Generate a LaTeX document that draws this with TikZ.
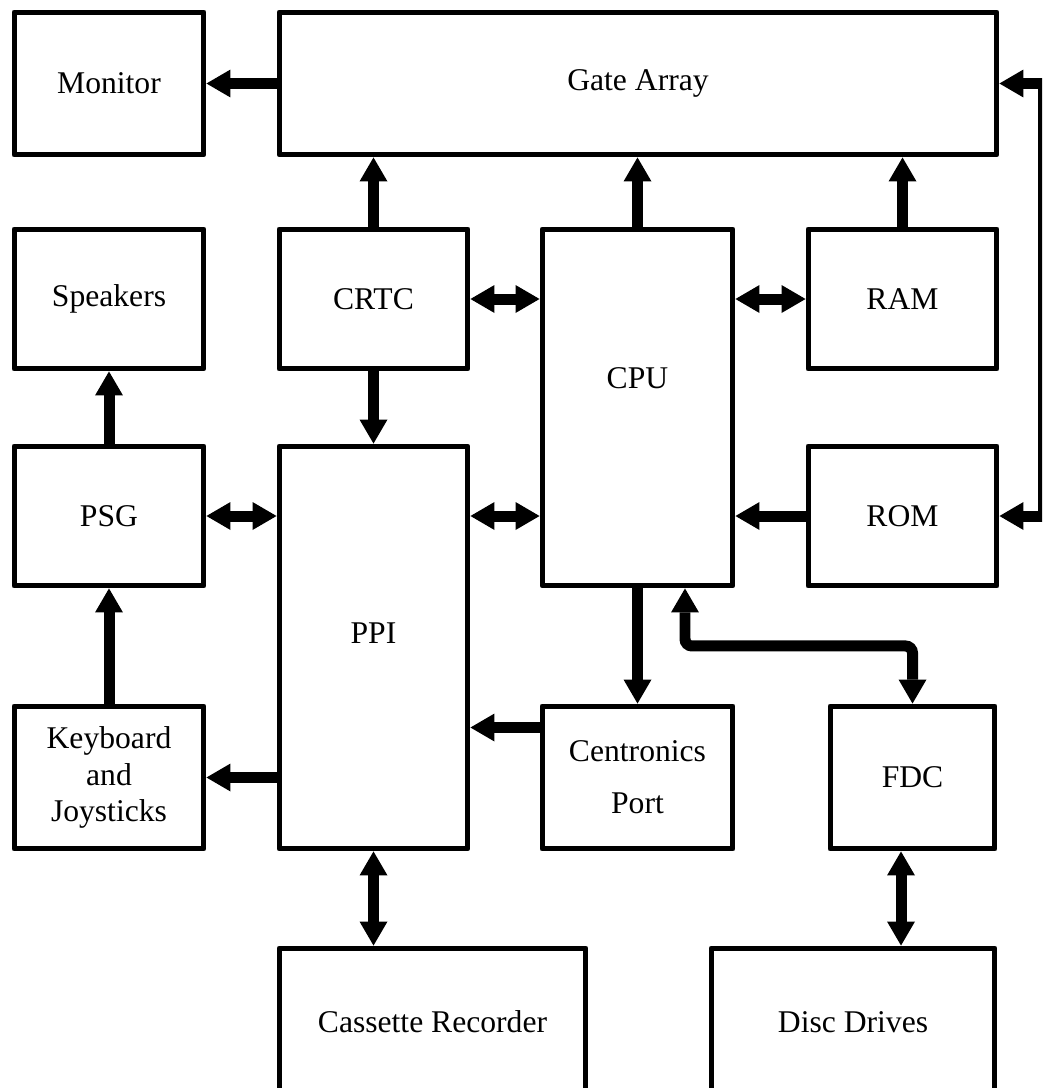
\documentclass[tikz,border=0pt]{standalone}
\usepackage{fontspec}
\setmainfont{Liberation Serif}
\usetikzlibrary{arrows.meta,calc}

\begin{document}
\begin{tikzpicture}[
        x=0.02cm, y=-0.02cm,
        txt/.style={font=\fontsize{18}{21}\selectfont, align=center},
        block/.style={txt, draw, line width=0.1cm, line join=round, inner sep=0pt},
        bus/.style={line width=0.22cm, -{Triangle[length=0.48cm,width=0.56cm,line width=0pt]}},
        dbus/.style={line width=0.22cm, {Triangle[length=0.48cm,width=0.56cm,line width=0pt]}-{Triangle[length=0.48cm,width=0.56cm,line width=0pt]}}
    ]
    \useasboundingbox (0,0) rectangle (1042,1088);
    \clip (0,0) rectangle (1042,1088);

    \node [block, minimum width=3.8cm, minimum height=2.86cm] (mon) at (109,83.5) {Monitor};
    \node [block, minimum width=14.36cm, minimum height=2.86cm] (gate) at (638,83.5) {Gate Array};
    \node [block, minimum width=3.8cm, minimum height=2.8cm] (spk) at (109,299) {Speakers};
    \node [block, minimum width=3.78cm, minimum height=2.8cm] (crtc) at (373.5,299) {CRTC};
    \node [block, minimum width=3.82cm, minimum height=7.14cm] (cpu) at (637.5,407.5) {};
    \node [txt] (cpu-l) at ([yshift=0.58cm]cpu.center) {CPU};
    \node [block, minimum width=3.78cm, minimum height=2.8cm] (ram) at (902.5,299) {RAM};
    \node [block, minimum width=3.8cm, minimum height=2.8cm] (psg) at (109,516) {PSG};
    \node [block, minimum width=3.78cm, minimum height=8.06cm] (ppi) at (373.5,647.5) {};
    \node [txt] (ppi-l) at ([yshift=0.29cm]ppi.center) {PPI};
    \node [block, minimum width=3.78cm, minimum height=2.8cm] (rom) at (902.5,516) {ROM};
    \node [block, minimum width=3.8cm, minimum height=2.86cm] (kbd) at (109,777.5) {Keyboard\\and\\Joysticks};
    \node [block, minimum width=3.82cm, minimum height=2.86cm] (cent) at (637.5,777.5) {Centronics\\[8.5pt]Port};
    \node [block, minimum width=3.3cm, minimum height=2.86cm] (fdc) at (912.5,777.5) {FDC};
    \node [block, minimum width=6.14cm, minimum height=2.96cm] (cas) at (432.5,1022) {Cassette Recorder};
    \node [block, minimum width=5.68cm, minimum height=2.96cm] (disc) at (853,1022) {Disc Drives};

    \coordinate (bend) at ($(cpu.south)!.5!(cent.north)+(0.95cm,0)$);
    \coordinate (rside) at ($(gate.east)+(0.88cm,0)$);
    \coordinate (cent-out) at ([yshift=1cm]cent.west);
    \coordinate (fdc-out) at ([xshift=-0.23cm]fdc.south);

    \draw [bus] (gate.west) -- (mon.east);
    \draw [bus] (crtc.north) -- (crtc.north |- gate.south);
    \draw [bus] (cpu.north) -- (cpu.north |- gate.south);
    \draw [bus] (ram.north) -- (ram.north |- gate.south);
    \draw [dbus] (crtc.east) -- (crtc.east -| cpu.west);
    \draw [dbus] (ram.west) -- (ram.west -| cpu.east);
    \draw [bus] (crtc.south) -- (crtc.south |- ppi.north);
    \draw [bus] (psg.north) -- (spk.south);
    \draw [dbus] (psg.east) -- (psg.east -| ppi.west);
    \draw [dbus] (rom.west -| ppi.east) -- (rom.west -| cpu.west);
    \draw [bus] (rom.west) -- (rom.west -| cpu.east);
    \draw [bus] (kbd.north) -- (psg.south);
    \draw [bus] (kbd.east -| ppi.west) -- (kbd.east);
    \draw [bus] (cent-out) -- (cent-out -| ppi.east);
    \draw [bus] (cpu.south) -- (cent.north);
    \draw [dbus, rounded corners=0.14cm] (bend |- cpu.south) -- (bend) -| (fdc.north);
    \draw [dbus] (ppi.south) -- (ppi.south |- cas.north);
    \draw [dbus] (fdc-out) -- (fdc-out |- disc.north);
    \draw [dbus] (gate.east) -- (rside) |- (rom.east);
\end{tikzpicture}
\end{document}
